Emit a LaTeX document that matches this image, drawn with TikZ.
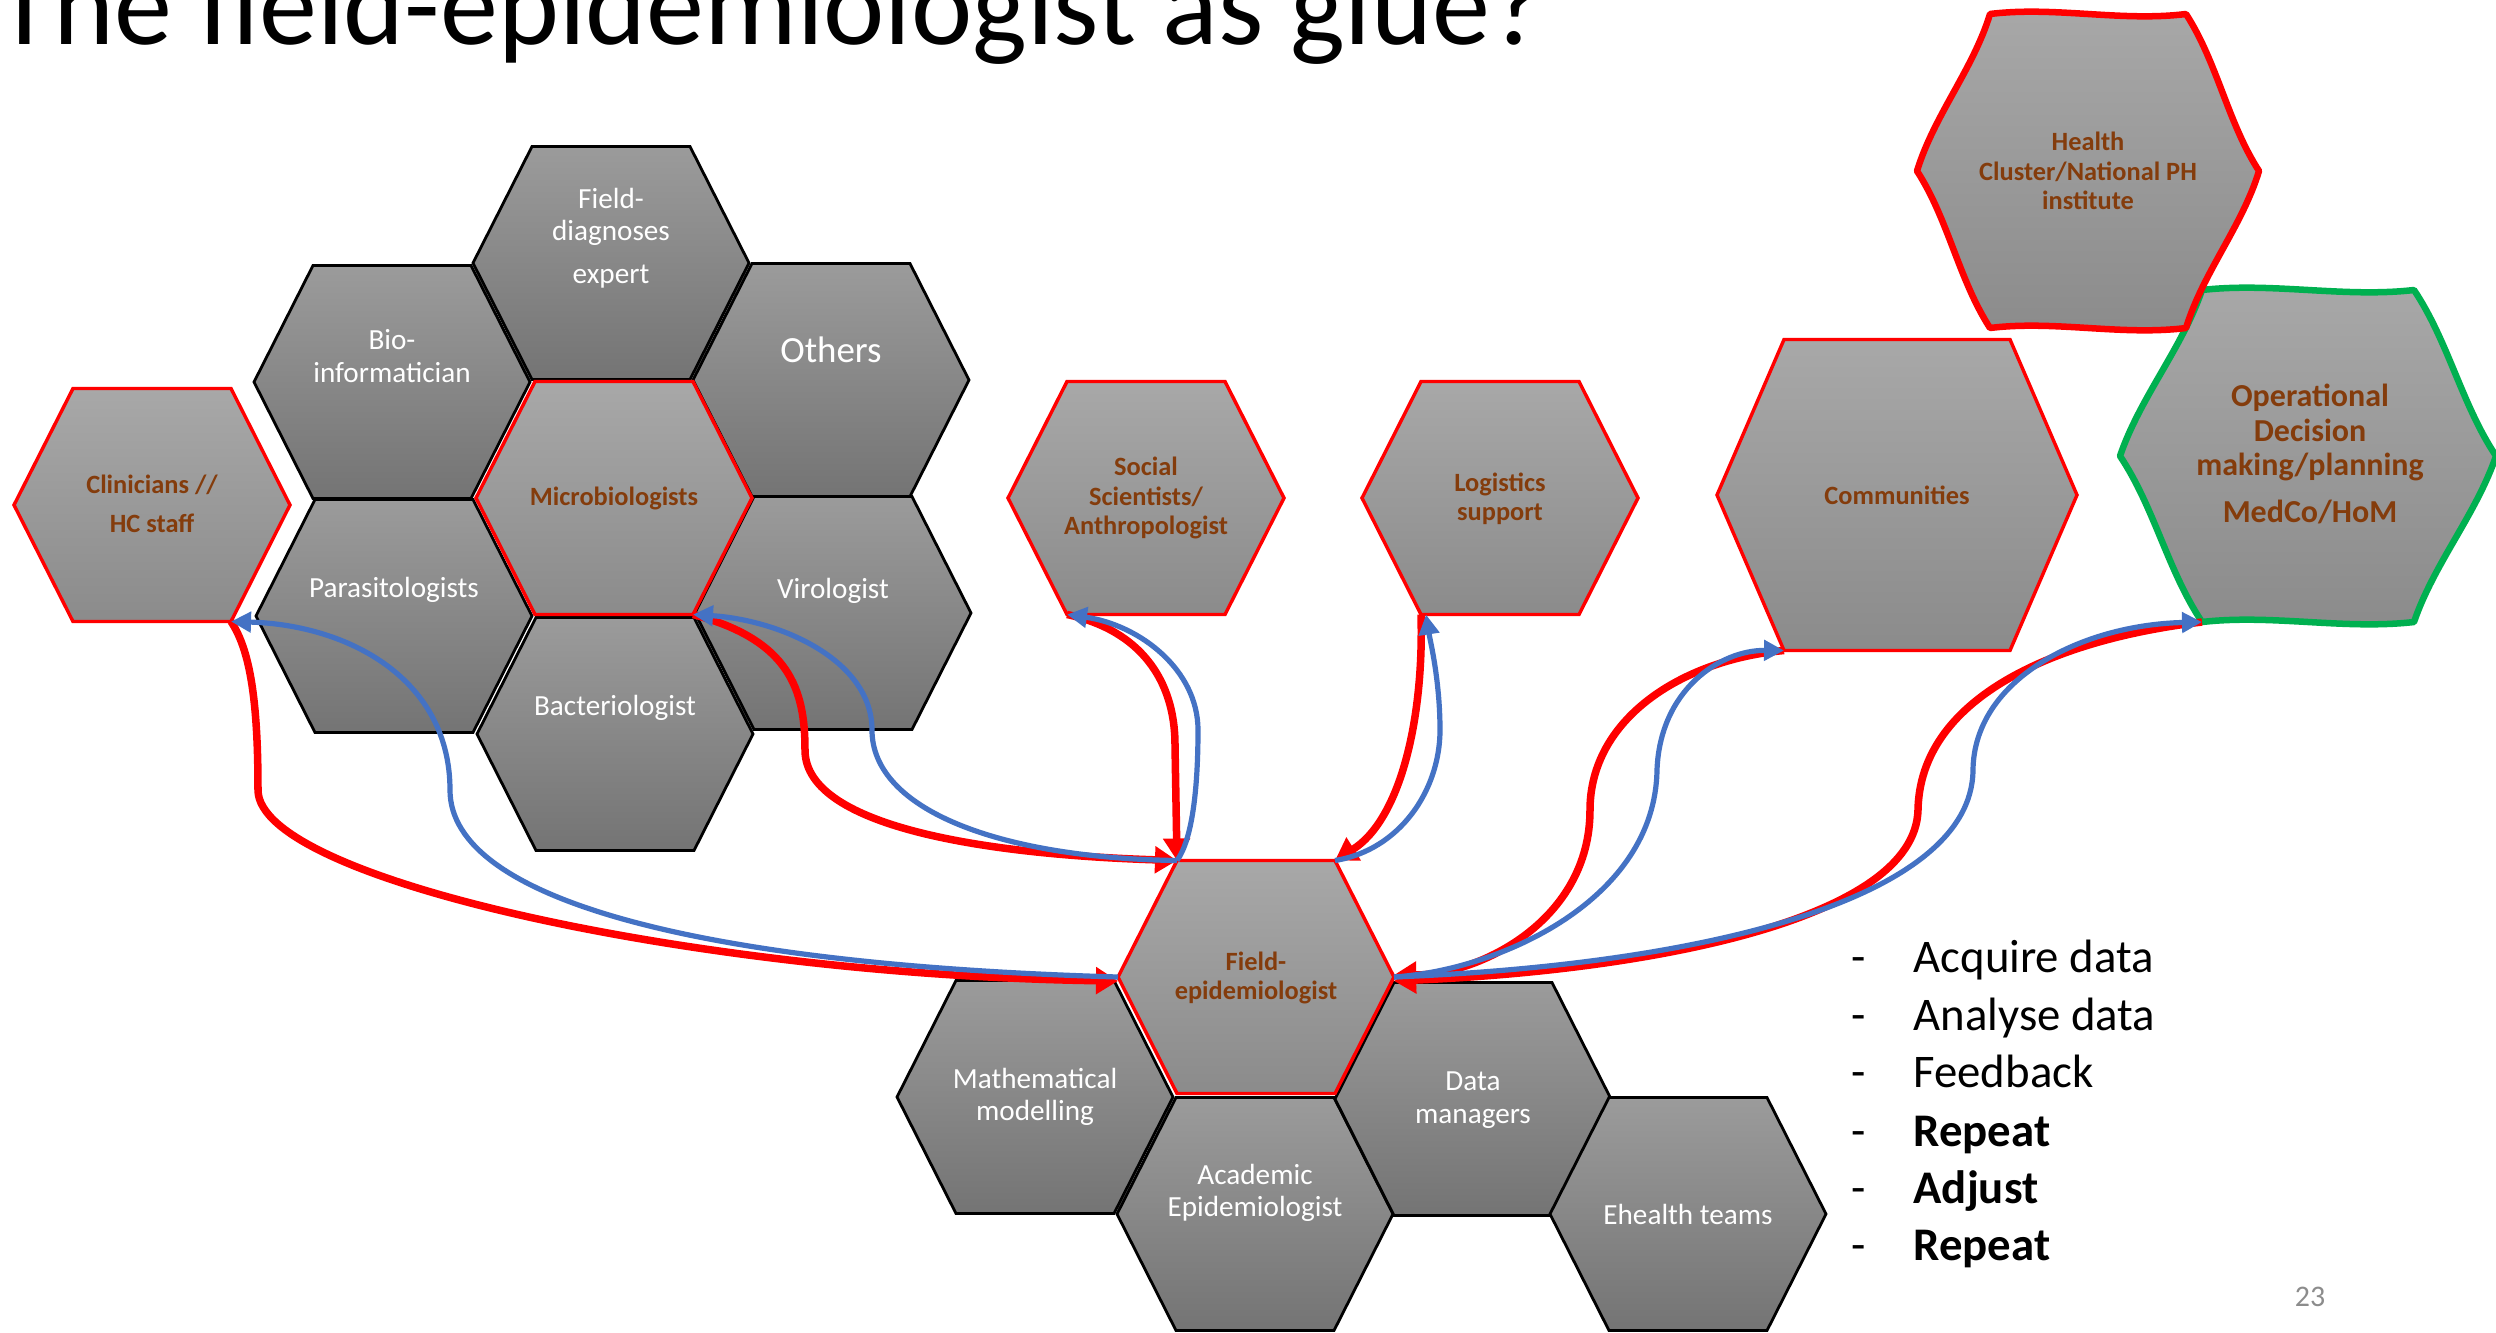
\documentclass[tikz,border=0pt]{standalone}
\usepackage{fontspec}
\setmainfont{Carlito}
\usetikzlibrary{arrows.meta,calc}

\definecolor{brownlabel}{HTML}{843C0C}
\definecolor{linkred}{HTML}{FF0000}
\definecolor{linkblue}{HTML}{4472C4}
\definecolor{opgreen}{HTML}{00B050}
\definecolor{cellTop}{HTML}{9B9B9B}
\definecolor{cellBot}{HTML}{747474}
\definecolor{keyTop}{HTML}{A8A8A8}
\definecolor{keyBot}{HTML}{8B8B8B}
\definecolor{pagegray}{HTML}{8C8C8C}

% corner coordinates of a flat-topped hexagon: name, cx, cy, half width, half top edge, half height
\newcommand\hexcell[6]{%
  \coordinate (#1-l)  at ({#2-#4},{#3});
  \coordinate (#1-r)  at ({#2+#4},{#3});
  \coordinate (#1-tl) at ({#2-#5},{#3-#6});
  \coordinate (#1-tr) at ({#2+#5},{#3-#6});
  \coordinate (#1-bl) at ({#2-#5},{#3+#6});
  \coordinate (#1-br) at ({#2+#5},{#3+#6});
}
\newcommand\hexoutline[1]{(#1-l) -- (#1-tl) -- (#1-tr) -- (#1-r) -- (#1-br) -- (#1-bl) -- cycle}
% gently S-shaped side from #1 to #2, control offset #3
\newcommand\waveto[3]{ .. controls ($(#1)!0.33!(#2)!#3!90:(#2)$) and ($(#1)!0.67!(#2)!#3!-90:(#2)$) .. (#2)}
\newcommand\wavyoutline[2]{(#1-l) \waveto{#1-l}{#1-tl}{#2} \waveto{#1-tl}{#1-tr}{#2} \waveto{#1-tr}{#1-r}{#2}
  \waveto{#1-r}{#1-br}{#2} \waveto{#1-br}{#1-bl}{#2} \waveto{#1-bl}{#1-l}{#2} -- cycle}

\begin{document}
\begin{tikzpicture}[x=0.01cm, y=-0.01cm,
  cellgray/.style={draw=black, line width=0.028cm, line join=miter, top color=cellTop, bottom color=cellBot},
  cellred/.style={draw=linkred, line width=0.034cm, line join=miter, top color=keyTop, bottom color=keyBot},
  wavy/.style={line width=0.065cm, line join=round, top color=keyTop, bottom color=keyBot},
  plain/.style={text=white, font=\fontsize{8.3}{9.3}\selectfont, align=center, inner sep=0pt},
  keytext/.style={text=brownlabel, font=\bfseries\fontsize{7.5}{8.3}\selectfont, align=center, inner sep=0pt},
  inlink/.style={draw=linkred, line width=0.075cm, -{Triangle[length=0.22cm,width=0.26cm]}},
  outlink/.style={draw=linkblue, line width=0.052cm, -{Triangle[length=0.2cm,width=0.2cm]}},
  stepline/.style={anchor=base west, inner sep=0pt, font=\fontsize{13.3}{16}\selectfont}
]
\fill[white] (0,0) rectangle (2496,1333);
\useasboundingbox (0,0) rectangle (2496,1333);

% title
\node[anchor=base west, inner sep=0pt, font=\fontsize{33}{36}\selectfont] (title) at (-4,44)
  {The field-epidemiologist as glue?};

% hexagon geometry
\hexcell{clin}{152}{505}{138}{79}{116.5}
\hexcell{bio}{392}{382}{138}{79}{116.5}
\hexcell{fdx}{611}{263}{138}{79}{116.5}
\hexcell{oth}{831}{380}{138}{79}{116.5}
\hexcell{mic}{614}{498}{138}{79}{116.5}
\hexcell{par}{394}{616}{138}{79}{116.5}
\hexcell{vir}{833}{613}{138}{79}{116.5}
\hexcell{bac}{615}{734}{138}{79}{116.5}
\hexcell{soc}{1146}{498}{138}{79}{116.5}
\hexcell{log}{1500}{498}{138}{79}{116.5}
\hexcell{com}{1897}{495}{180}{113}{155.5}
\hexcell{fe}{1256}{977}{138}{79}{116.5}
\hexcell{mat}{1035}{1097}{138}{79}{116.5}
\hexcell{aca}{1255}{1214}{138}{79}{116.5}
\hexcell{dat}{1473}{1099}{138}{79}{116.5}
\hexcell{ehe}{1688}{1214}{138}{79}{116.5}
\hexcell{hcl}{2088}{171}{171}{98}{157}
\hexcell{ope}{2308}{456}{188}{106}{166}

% supporting disciplines (black outline)
\foreach \c in {bio,fdx,oth,par,vir,bac,mat,aca,dat,ehe}
  \path[cellgray] \hexoutline{\c};

% key partners (red outline)
\foreach \c in {clin,mic,soc,log,com,fe}
  \path[cellred] \hexoutline{\c};

% decision makers (wavy outline)
\path[wavy, draw=opgreen] \wavyoutline{ope}{0.08cm};
\path[wavy, draw=linkred] \wavyoutline{hcl}{0.08cm};

% labels
\node[keytext] (clin) at (152,504) {Clinicians //\\[0.1cm]HC staff};
\node[plain] (bio) at (392,356) {Bio-\\informatician};
\node[plain] (fdx) at (611,238) {Field-\\diagnoses\\[0.1cm]expert};
\node[plain, font=\fontsize{10.5}{12}\selectfont] (oth) at (831,350) {Others};
\node[keytext] (mic) at (614,498) {Microbiologists};
\node[plain] (par) at (394,590) {Parasitologists};
\node[plain] (vir) at (833,591) {Virologist};
\node[plain] (bac) at (615,708) {Bacteriologist};
\node[keytext] (soc) at (1146,498) {Social\\Scientists/\\Anthropologist};
\node[keytext] (log) at (1500,499) {Logistics\\support};
\node[keytext] (com) at (1897,495) {Communities};
\node[keytext] (fe) at (1256,978) {Field-\\epidemiologist};
\node[plain] (mat) at (1035,1097) {Mathematical\\modelling};
\node[plain] (aca) at (1255,1193) {Academic\\Epidemiologist};
\node[plain] (dat) at (1473,1100) {Data\\managers};
\node[plain] (ehe) at (1688,1214) {Ehealth teams};
\node[keytext] (hcl) at (2088,171) {Health\\Cluster/National PH\\institute};
\node[keytext, font=\bfseries\fontsize{9.1}{9.9}\selectfont] (ope) at (2310,454)
  {Operational\\Decision\\making/planning\\[0.12cm]MedCo/HoM};

% information flowing into the field-epidemiologist
\draw[inlink] (clin-br) .. controls (250,650) and (258,700) .. (258,790)
  .. controls (258,880) and (700,975) .. ([yshift=-0.04cm]fe-l);
\draw[inlink] (mic-br) .. controls (790,640) and (805,690) .. (805,750)
  .. controls (805,830) and (1000,855) .. (fe-tl);
\draw[inlink] (soc-bl) .. controls (1140,630) and (1175,680) .. (1175,745) -- (fe-tl);
\draw[inlink] (log-bl) .. controls (1424,720) and (1400,820) .. (fe-tr);
\draw[inlink] (com-bl) .. controls (1680,660) and (1590,720) .. (1590,810)
  .. controls (1590,920) and (1480,975) .. ([yshift=0.02cm]fe-r);
\draw[inlink] (ope-bl) .. controls (2050,640) and (1920,700) .. (1918,810)
  .. controls (1915,920) and (1650,970) .. ([yshift=-0.04cm]fe-r);

% feedback going out of the field-epidemiologist
\draw[outlink] (fe-l) .. controls (700,965) and (450,900) .. (450,790)
  .. controls (450,680) and (350,625) .. (clin-br);
\draw[outlink] (fe-tl) .. controls (1000,858) and (872,810) .. (872,730)
  .. controls (872,660) and (780,620) .. (mic-br);
\draw[outlink] (fe-tl) .. controls (1192,840) and (1198,790) .. (1198,730)
  .. controls (1198,670) and (1140,625) .. (soc-bl);
\draw[outlink] (fe-tr) .. controls (1400,850) and (1440,790) .. (1440,730)
  .. controls (1440,680) and (1430,640) .. ([xshift=0.05cm]log-bl);
\draw[outlink] (fe-r) .. controls (1500,970) and (1655,900) .. (1657,770)
  .. controls (1660,690) and (1720,650) .. (com-bl);
\draw[outlink] (fe-r) .. controls (1700,965) and (1972,900) .. (1973,770)
  .. controls (1974,680) and (2080,625) .. (ope-bl);

% cycle of work
\node[stepline] (s1) at (1851,972)  {\makebox[17.6pt][l]{-}Acquire data};
\node[stepline] (s2) at (1851,1030) {\makebox[17.6pt][l]{-}Analyse data};
\node[stepline] (s3) at (1851,1087) {\makebox[17.6pt][l]{-}Feedback};
\node[stepline] (s4) at (1851,1146) {\makebox[17.6pt][l]{-}\textbf{Repeat}};
\node[stepline] (s5) at (1851,1203) {\makebox[17.6pt][l]{-}\textbf{Adjust}};
\node[stepline] (s6) at (1851,1260) {\makebox[17.6pt][l]{-}\textbf{Repeat}};

% slide number
\node[inner sep=0pt, text=pagegray, font=\fontsize{8.5}{10}\selectfont] (pg) at (2310,1297) {23};
\end{tikzpicture}
\end{document}
